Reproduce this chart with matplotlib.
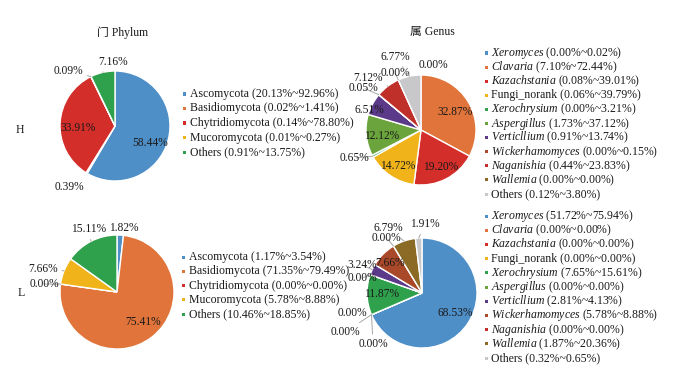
import matplotlib
matplotlib.use('Agg')
import matplotlib.pyplot as plt
from matplotlib.patches import Rectangle
import numpy as np

plt.rcParams['font.family'] = ['Liberation Serif', 'Noto Sans CJK SC', 'DejaVu Sans']
plt.rcParams['mathtext.fontset'] = 'custom'
plt.rcParams['mathtext.rm'] = 'Liberation Serif'
plt.rcParams['mathtext.it'] = 'Liberation Serif:italic'

# ---------------- data ----------------
phyla = ['Ascomycota', 'Basidiomycota', 'Chytridiomycota', 'Mucoromycota', 'Others']
phylum_H = [58.44, 0.39, 33.91, 0.09, 7.16]
phylum_L = [1.82, 75.41, 0.00, 7.66, 15.11]
phylum_range_H = ['20.13%~92.96%', '0.02%~1.41%', '0.14%~78.80%', '0.01%~0.27%', '0.91%~13.75%']
phylum_range_L = ['1.17%~3.54%', '71.35%~79.49%', '0.00%~0.00%', '5.78%~8.88%', '10.46%~18.85%']

genera = ['Xeromyces', 'Clavaria', 'Kazachstania', 'Fungi_norank', 'Xerochrysium',
          'Aspergillus', 'Verticllium', 'Wickerhamomyces', 'Naganishia', 'Wallemia', 'Others']
genus_italic = [True, True, True, False, True, True, True, True, True, True, False]
genus_H = [0.00, 32.87, 19.20, 14.72, 0.65, 12.12, 6.51, 0.05, 7.12, 0.00, 6.77]
genus_L = [68.53, 0.00, 0.00, 0.00, 11.87, 0.00, 3.24, 7.66, 0.00, 6.79, 1.91]
genus_range_H = ['0.00%~0.02%', '7.10%~72.44%', '0.08%~39.01%', '0.06%~39.79%', '0.00%~3.21%',
                 '1.73%~37.12%', '0.91%~13.74%', '0.00%~0.15%', '0.44%~23.83%', '0.00%~0.00%',
                 '0.12%~3.80%']
genus_range_L = ['51.72%~75.94%', '0.00%~0.00%', '0.00%~0.00%', '0.00%~0.00%', '7.65%~15.61%',
                 '0.00%~0.00%', '2.81%~4.13%', '5.78%~8.88%', '0.00%~0.00%', '1.87%~20.36%',
                 '0.32%~0.65%']

# ---------------- styles ----------------
phylum_colors = ['#4f8fc8', '#e0743a', '#d42e2a', '#f0b41a', '#2fa04b']
genus_colors = ['#4f8fc8', '#e0743a', '#d42e2a', '#f0b41a', '#2fa04b', '#6ba43c',
                '#5c3a8a', '#a9492a', '#c0302a', '#8a6a25', '#c8c8ca']

W, H = 700, 374
fig = plt.figure(figsize=(W / 100, H / 100), dpi=100)
fig.patch.set_facecolor('white')
TXT = '#1a1a1a'
LEAD = '#a6a6a6'


def make_pie(cx, cy, R, values, colors, label_pos, leaders):
    k = 1.9
    ax = fig.add_axes([(cx - k * R) / W, 1 - (cy + k * R) / H, 2 * k * R / W, 2 * k * R / H])
    wedges, _ = ax.pie(values, colors=colors, startangle=90, counterclock=False, radius=1,
                       wedgeprops=dict(edgecolor='white', linewidth=1.0))
    ax.set_xlim(-k, k)
    ax.set_ylim(-k, k)
    ax.set_aspect('equal')
    ax.axis('off')
    for w, v, pos, lead in zip(wedges, values, label_pos, leaders):
        txt = f'{v:.2f}%'
        if lead:
            mid = np.deg2rad((w.theta1 + w.theta2) / 2)
            ax.annotate(txt, xy=(np.cos(mid), np.sin(mid)), xytext=pos, textcoords='data',
                        ha='center', va='center', fontsize=8.3, color=TXT,
                        arrowprops=dict(arrowstyle='-', color=LEAD, lw=0.7, shrinkA=1, shrinkB=0),
                        annotation_clip=False)
        else:
            ax.text(pos[0], pos[1], txt, ha='center', va='center', fontsize=8.3, color=TXT)
    return ax


def legend(x_mark, x_text, y0, dy, names, ranges, colors, italic=None):
    for i, (n, r, c) in enumerate(zip(names, ranges, colors)):
        y = y0 + i * dy
        if italic is not None and italic[i]:
            lab = r'$\mathit{' + n + '}$' + f' ({r})'
        else:
            lab = f'{n} ({r})'
        fig.text(x_text / W, 1 - y / H, lab, ha='left', va='center', fontsize=8.5, color=TXT)
        fig.add_artist(Rectangle(((x_mark - 1.5) / W, 1 - (y + 1.5) / H), 3 / W, 3 / H,
                                 transform=fig.transFigure, color=c, lw=0))


# Phylum H
make_pie(115, 126, 55, phylum_H, phylum_colors,
         [(0.64, -0.31), (-0.82, -1.11), (-0.67, -0.04), (-0.85, 1.0), (-0.04, 1.16)],
         [False, False, False, True, True])
# Phylum L
make_pie(117, 292, 57, phylum_L, phylum_colors,
         [(0.12, 1.12), (0.46, -0.53), (-1.28, 0.14), (-1.30, 0.40), (-0.49, 1.10)],
         [False, False, True, True, True])
# Genus H
make_pie(421, 130, 55, genus_H, genus_colors,
         [(0.22, 1.18), (0.62, 0.33), (0.35, -0.67), (-0.42, -0.65), (-1.2, -0.51),
          (-0.71, -0.11), (-0.93, 0.36), (-1.04, 0.76), (-0.96, 0.95), (-0.47, 1.04),
          (-0.47, 1.33)],
         [False, False, False, False, True, False, False, True, True, True, True])
# Genus L
make_pie(422, 293, 55, genus_L, genus_colors,
         [(0.60, -0.36), (-0.89, -0.93), (-1.40, -0.71), (-1.27, -0.36), (-0.73, -0.02),
          (-1.09, 0.27), (-1.09, 0.51), (-0.58, 0.55), (-0.64, 1.0), (-0.62, 1.18),
          (0.05, 1.25)],
         [False, True, True, True, False, True, True, False, True, True, True])

# legends
legend(184, 190, 94, 14.5, phyla, phylum_range_H, phylum_colors)
legend(183, 189, 257, 14.3, phyla, phylum_range_L, phylum_colors)
legend(486, 491, 53, 14.1, genera, genus_range_H, genus_colors, genus_italic)
legend(486, 491, 216, 14.2, genera, genus_range_L, genus_colors, genus_italic)

# titles and row labels
fig.text(123 / W, 1 - 33 / H, '门 Phylum', ha='center', va='center', fontsize=8.5, color=TXT)
fig.text(432 / W, 1 - 32 / H, '属 Genus', ha='center', va='center', fontsize=8.5, color=TXT)
fig.text(20 / W, 1 - 130 / H, 'H', ha='center', va='center', fontsize=8.5, color=TXT)
fig.text(21 / W, 1 - 293 / H, 'L', ha='center', va='center', fontsize=8.5, color=TXT)

fig.savefig('out.png', dpi=100)
